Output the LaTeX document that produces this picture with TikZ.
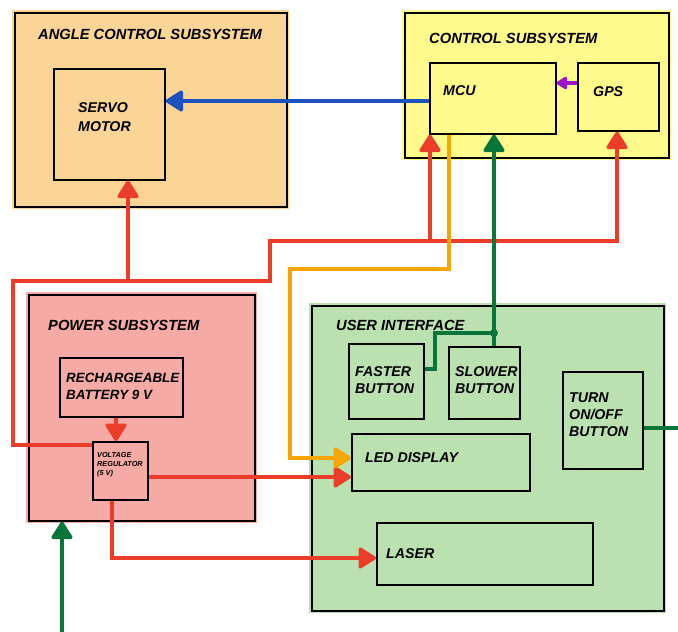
\documentclass[tikz,border=0pt]{standalone}
\usepackage{fontspec}
\setmainfont{Liberation Sans}
\usetikzlibrary{arrows.meta}
\definecolor{angfill}{RGB}{251,213,150}
\definecolor{ctlfill}{RGB}{255,250,140}
\definecolor{pwrfill}{RGB}{245,170,165}
\definecolor{uifill}{RGB}{188,225,177}
\definecolor{rline}{RGB}{235,62,42}
\definecolor{oline}{RGB}{247,165,0}
\definecolor{gline}{RGB}{8,118,58}
\definecolor{bline}{RGB}{30,80,190}
\definecolor{pline}{RGB}{160,20,200}
\begin{document}
\begin{tikzpicture}[x=1pt, y=-1pt, >={Triangle[round,length=19pt,width=23pt]},
    box/.style={draw, line width=1.6pt, anchor=north west, inner sep=0pt},
    sys/.style={box, fill=#1, preaction={draw=#1, line width=5pt}},
    title/.style={anchor=west, inner sep=0pt, font=\fontsize{14.7}{17}\selectfont\bfseries\itshape},
    lbl/.style={anchor=west, inner sep=0pt, align=left, font=\fontsize{14.2}{17}\selectfont\bfseries\itshape},
    wire/.style={line width=3.4pt, color=#1}]
\useasboundingbox (0,0) rectangle (678,632);
% subsystems
\node[sys=angfill, minimum width=272pt, minimum height=194pt] (angle) at (14,12) {};
\node[sys=ctlfill, minimum width=264pt, minimum height=145pt] (control) at (404,12) {};
\node[sys=pwrfill, minimum width=226pt, minimum height=226pt] (power) at (28,294) {};
\node[sys=uifill, minimum width=352pt, minimum height=305pt] (ui) at (311,305) {};
% blocks
\node[box, minimum width=111pt, minimum height=111pt] (servo) at (53,68) {};
\node[box, minimum width=126pt, minimum height=71pt] (mcu) at (429,62) {};
\node[box, minimum width=81pt, minimum height=68pt] (gps) at (577,62) {};
\node[box, minimum width=123pt, minimum height=59pt] (bat) at (59,357) {};
\node[box, minimum width=55pt, minimum height=58pt] (reg) at (92,441) {};
\node[box, minimum width=75pt, minimum height=75pt] (fast) at (348,343) {};
\node[box, minimum width=71pt, minimum height=72pt] (slow) at (448,346) {};
\node[box, minimum width=80pt, minimum height=97pt] (turn) at (562,371) {};
\node[box, minimum width=178pt, minimum height=57pt] (led) at (351,433) {};
\node[box, minimum width=216pt, minimum height=62pt] (laser) at (376,522) {};
% texts
\node[title] (angT) at (38,34.5) {ANGLE CONTROL SUBSYSTEM};
\node[title] (ctlT) at (429,38) {CONTROL SUBSYSTEM};
\node[title] (pwrT) at (48,325) {POWER SUBSYSTEM};
\node[title] (uiT) at (336,325) {USER INTERFACE};
\node[lbl, font=\fontsize{14.2}{19}\selectfont\bfseries\itshape] (servoT) at (78,117) {SERVO\\MOTOR};
\node[lbl] (mcuT) at (443,90.5) {MCU};
\node[lbl] (gpsT) at (593,92) {GPS};
\node[lbl, font=\fontsize{13.4}{17}\selectfont\bfseries\itshape] (batT) at (66,386) {RECHARGEABLE\\BATTERY 9 V};
\node[lbl, font=\fontsize{7.3}{9}\selectfont\bfseries\itshape] (regT) at (97,465) {VOLTAGE\\REGULATOR\\(5 V)};
\node[lbl] (fastT) at (355,380.5) {FASTER\\BUTTON};
\node[lbl] (slowT) at (455,380) {SLOWER\\BUTTON};
\node[lbl] (turnT) at (569,415) {TURN\\ON/OFF\\BUTTON};
\node[lbl] (ledT) at (365,458) {LED DISPLAY};
\node[lbl] (laserT) at (386,554) {LASER};
% control wires
\draw[wire=bline, ->] (mcu.west |- 0,101) -- (servo.east |- 0,101);
\draw[wire=pline, -{Triangle[round,length=12pt,width=14pt]}] (gps.west |- 0,83) -- (mcu.east |- 0,83);
% power wires
\coordinate (rA) at (13,445);
\coordinate (rB) at (13,281);
\coordinate (rC) at (270,281);
\coordinate (rD) at (270,241);
\coordinate (rE) at (617,241);
\coordinate (rS) at (128,281);
\coordinate (rM) at (430,241);
\coordinate (rL) at (112,558);
\draw[wire=rline, ->] (reg.west |- rA) -- (rA) -- (rB) -- (rC) -- (rD) -- (rE) -- (gps.south -| rE);
\draw[wire=rline, ->] (rS) -- (servo.south -| rS);
\draw[wire=rline, ->] (rM) -- (mcu.south -| rM);
\draw[wire=rline, ->] (bat.south -| 116,0) -- (reg.north -| 116,0);
\draw[wire=rline, ->] (reg.east |- 0,477) -- (led.west |- 0,477);
\draw[wire=rline, ->] (reg.south -| rL) -- (rL) -- (laser.west |- rL);
% display wire
\coordinate (oA) at (449,269);
\coordinate (oB) at (290,269);
\coordinate (oC) at (290,458);
\draw[wire=oline, ->] (mcu.south -| oA) -- (oA) -- (oB) -- (oC) -- (led.west |- oC);
% button wires
\coordinate (gJ) at (494,333);
\coordinate (gK) at (435,333);
\coordinate (gF) at (435,369);
\coordinate (gR) at (678,428);
\coordinate (gB) at (62,632);
\draw[wire=gline, ->] (slow.north -| gJ) -- (mcu.south -| gJ);
\draw[wire=gline] (gJ) -- (gK) -- (gF) -- (fast.east |- gF);
\fill[gline] (gJ) circle (4pt);
\draw[wire=gline] (turn.east |- gR) -- (gR);
\draw[wire=gline, ->] (gB) -- (power.south -| gB);
\end{tikzpicture}
\end{document}
